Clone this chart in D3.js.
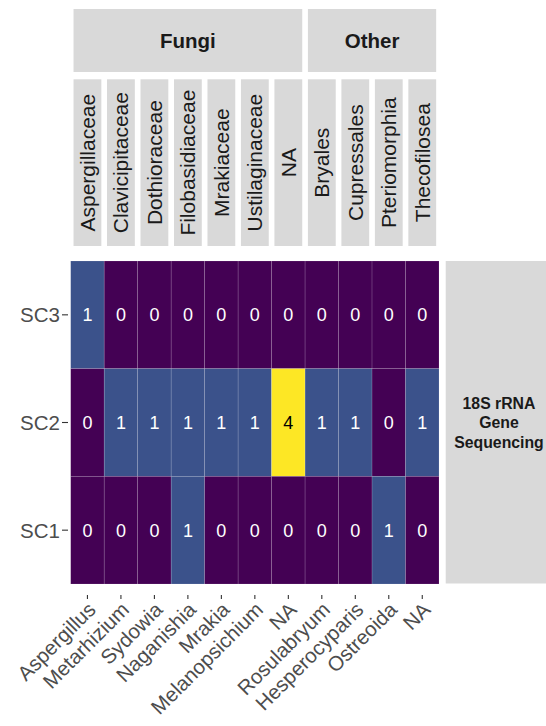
<!DOCTYPE html>
<html>
<head>
<meta charset="utf-8">
<script src="https://cdn.jsdelivr.net/npm/d3@7"></script>
<style>
  html, body { margin: 0; padding: 0; background: #ffffff; overflow: hidden; }
  svg { display: block; font-family: "Liberation Sans", Arial, Helvetica, sans-serif; }
</style>
</head>
<body>
<svg id="chart" width="546" height="726"></svg>
<script>
// ---- data ----
const genera = ["Aspergillus", "Metarhizium", "Sydowia", "Naganishia", "Mrakia", "Melanopsichium", "NA", "Rosulabryum", "Hesperocyparis", "Ostreoida", "NA"];
const families = ["Aspergillaceae", "Clavicipitaceae", "Dothioraceae", "Filobasidiaceae", "Mrakiaceae", "Ustilaginaceae", "NA", "Bryales", "Cupressales", "Pteriomorphia", "Thecofilosea"];
const groups = ["Fungi", "Fungi", "Fungi", "Fungi", "Fungi", "Fungi", "Fungi", "Other", "Other", "Other", "Other"];
const samples = ["SC3", "SC2", "SC1"];
const valuesSC3 = [1, 0, 0, 0, 0, 0, 0, 0, 0, 0, 0];
const valuesSC2 = [0, 1, 1, 1, 1, 1, 4, 1, 1, 0, 1];
const valuesSC1 = [0, 0, 0, 1, 0, 0, 0, 0, 0, 1, 0];
const rowStripLabel = ["18S rRNA", "Gene", "Sequencing"];

const valuesBySample = { SC3: valuesSC3, SC2: valuesSC2, SC1: valuesSC1 };
const cells = [];
samples.forEach(s => valuesBySample[s].forEach((v, i) => cells.push({ sample: s, col: i, value: v })));

// ---- layout ----
const panel = { left: 70.7, right: 439, top: 261, bottom: 584 };
const stripFill = "#d9d9d9";

const svg = d3.select("#chart");

const x = d3.scaleBand().domain(d3.range(genera.length)).range([panel.left, panel.right]).padding(0);
const y = d3.scaleBand().domain(samples).range([panel.top, panel.bottom]).padding(0);
const color = d3.scaleSequential(d3.interpolateViridis).domain([0, 4]);

// ---- tiles ----
svg.append("g").selectAll("rect").data(cells).join("rect")
  .attr("x", d => x(d.col))
  .attr("y", d => y(d.sample))
  .attr("width", x.bandwidth())
  .attr("height", y.bandwidth())
  .attr("fill", d => color(d.value))
  .attr("stroke", "rgba(255,255,255,0.22)")
  .attr("stroke-width", 0.6);

// cell labels
svg.append("g").selectAll("text").data(cells).join("text")
  .attr("x", d => x(d.col) + x.bandwidth() / 2)
  .attr("y", d => y(d.sample) + y.bandwidth() / 2)
  .attr("dy", "0.36em")
  .attr("text-anchor", "middle")
  .attr("font-size", 18)
  .attr("fill", d => d.value >= 3 ? "#000000" : "#ffffff")
  .text(d => d.value);

// ---- top strips ----
const stripW = 27.8;
const famStripTop = 79.3, famStripBottom = 246;
const grpStripTop = 9, grpStripBottom = 72;

const famG = svg.append("g");
families.forEach((f, i) => {
  const cx = x(i) + x.bandwidth() / 2;
  famG.append("rect")
    .attr("x", cx - stripW / 2).attr("y", famStripTop)
    .attr("width", stripW).attr("height", famStripBottom - famStripTop)
    .attr("fill", stripFill);
  const cy = (famStripTop + famStripBottom) / 2;
  famG.append("text")
    .attr("transform", `translate(${cx},${cy}) rotate(-90)`)
    .attr("text-anchor", "middle")
    .attr("dy", "0.36em")
    .attr("font-size", 21)
    .attr("fill", "#1a1a1a")
    .text(f);
});

// group strips
const groupNames = Array.from(new Set(groups));
const grpG = svg.append("g");
groupNames.forEach(g => {
  const idx = groups.map((gg, i) => gg === g ? i : -1).filter(i => i >= 0);
  const first = d3.min(idx), last = d3.max(idx);
  const x0 = x(first) + x.bandwidth() / 2 - stripW / 2;
  const x1 = x(last) + x.bandwidth() / 2 + stripW / 2;
  grpG.append("rect")
    .attr("x", x0).attr("y", grpStripTop)
    .attr("width", x1 - x0).attr("height", grpStripBottom - grpStripTop)
    .attr("fill", stripFill);
  grpG.append("text")
    .attr("x", (x0 + x1) / 2)
    .attr("y", (grpStripTop + grpStripBottom) / 2)
    .attr("dy", "0.36em")
    .attr("text-anchor", "middle")
    .attr("font-size", 20.5)
    .attr("font-weight", "bold")
    .attr("fill", "#1a1a1a")
    .text(g);
});

// ---- right strip ----
const rs = svg.append("g");
rs.append("rect")
  .attr("x", 445.7).attr("y", panel.top)
  .attr("width", 107).attr("height", panel.bottom - 0.5 - panel.top)
  .attr("fill", stripFill);
const rsText = rs.append("text")
  .attr("x", 499)
  .attr("y", (panel.top + panel.bottom) / 2)
  .attr("text-anchor", "middle")
  .attr("font-size", 15.8)
  .attr("font-weight", "bold")
  .attr("fill", "#1a1a1a");
rowStripLabel.forEach((t, i) => {
  rsText.append("tspan")
    .attr("x", 499)
    .attr("dy", i === 0 ? `${0.36 - (rowStripLabel.length - 1) / 2 * 1.23}em` : "1.23em")
    .text(t);
});

// ---- y axis ----
const yAxisG = svg.append("g");
samples.forEach(s => {
  const cy = y(s) + y.bandwidth() / 2;
  yAxisG.append("line")
    .attr("x1", 62).attr("x2", 68)
    .attr("y1", cy).attr("y2", cy)
    .attr("stroke", "#333333").attr("stroke-width", 1.1);
  yAxisG.append("text")
    .attr("x", 60).attr("y", cy)
    .attr("dy", "0.36em")
    .attr("text-anchor", "end")
    .attr("font-size", 20.5)
    .attr("fill", "#4d4d4d")
    .text(s);
});

// ---- x axis ----
const xAxisG = svg.append("g");
genera.forEach((g, i) => {
  const cx = x(i) + x.bandwidth() / 2;
  xAxisG.append("line")
    .attr("x1", cx).attr("x2", cx)
    .attr("y1", 595).attr("y2", 599)
    .attr("stroke", "#333333").attr("stroke-width", 1.1);
  xAxisG.append("text")
    .attr("transform", `translate(${cx + 9.5},${611}) rotate(-45)`)
    .attr("text-anchor", "end")
    .attr("font-size", 20.5)
    .attr("fill", "#4d4d4d")
    .text(g);
});
</script>
</body>
</html>
